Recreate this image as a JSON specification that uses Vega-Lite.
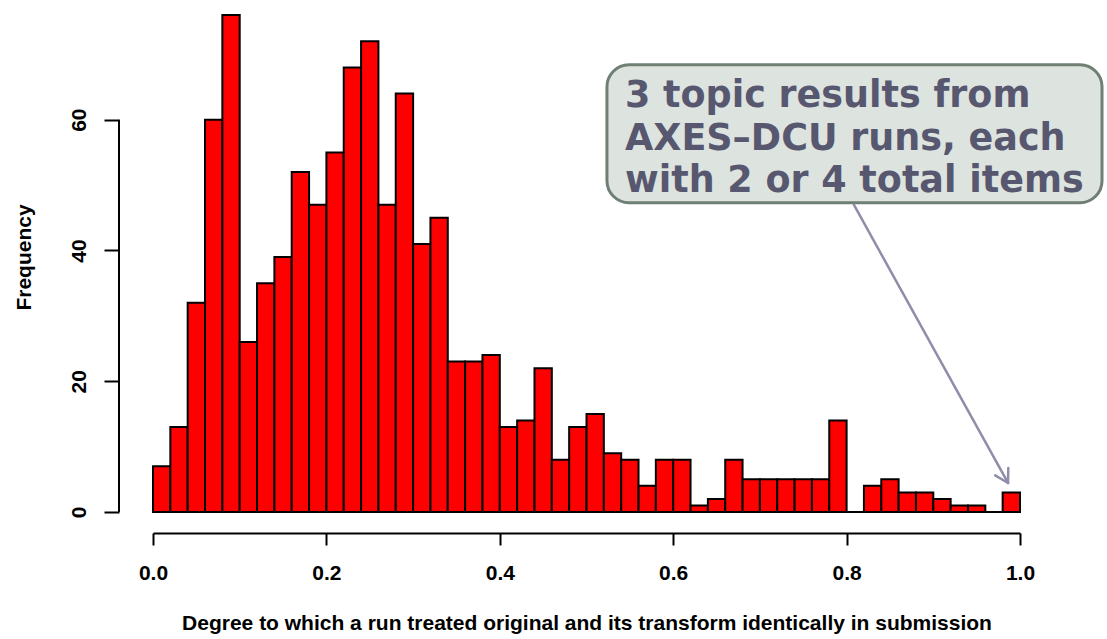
{
  "$schema": "https://vega.github.io/schema/vega-lite/v6.json",
  "width": 867,
  "height": 510,
  "autosize": {"type": "none"},
  "padding": {"left": 153, "top": 2, "right": 87, "bottom": 127},
  "background": "white",
  "config": {"view": {"stroke": null}},
  "datasets": {
    "bins": [
      {"lo": 0.00, "hi": 0.02, "n": 7}, {"lo": 0.02, "hi": 0.04, "n": 13}, {"lo": 0.04, "hi": 0.06, "n": 32},
      {"lo": 0.06, "hi": 0.08, "n": 60}, {"lo": 0.08, "hi": 0.10, "n": 76}, {"lo": 0.10, "hi": 0.12, "n": 26},
      {"lo": 0.12, "hi": 0.14, "n": 35}, {"lo": 0.14, "hi": 0.16, "n": 39}, {"lo": 0.16, "hi": 0.18, "n": 52},
      {"lo": 0.18, "hi": 0.20, "n": 47}, {"lo": 0.20, "hi": 0.22, "n": 55}, {"lo": 0.22, "hi": 0.24, "n": 68},
      {"lo": 0.24, "hi": 0.26, "n": 72}, {"lo": 0.26, "hi": 0.28, "n": 47}, {"lo": 0.28, "hi": 0.30, "n": 64},
      {"lo": 0.30, "hi": 0.32, "n": 41}, {"lo": 0.32, "hi": 0.34, "n": 45}, {"lo": 0.34, "hi": 0.36, "n": 23},
      {"lo": 0.36, "hi": 0.38, "n": 23}, {"lo": 0.38, "hi": 0.40, "n": 24}, {"lo": 0.40, "hi": 0.42, "n": 13},
      {"lo": 0.42, "hi": 0.44, "n": 14}, {"lo": 0.44, "hi": 0.46, "n": 22}, {"lo": 0.46, "hi": 0.48, "n": 8},
      {"lo": 0.48, "hi": 0.50, "n": 13}, {"lo": 0.50, "hi": 0.52, "n": 15}, {"lo": 0.52, "hi": 0.54, "n": 9},
      {"lo": 0.54, "hi": 0.56, "n": 8}, {"lo": 0.56, "hi": 0.58, "n": 4}, {"lo": 0.58, "hi": 0.60, "n": 8},
      {"lo": 0.60, "hi": 0.62, "n": 8}, {"lo": 0.62, "hi": 0.64, "n": 1}, {"lo": 0.64, "hi": 0.66, "n": 2},
      {"lo": 0.66, "hi": 0.68, "n": 8}, {"lo": 0.68, "hi": 0.70, "n": 5}, {"lo": 0.70, "hi": 0.72, "n": 5},
      {"lo": 0.72, "hi": 0.74, "n": 5}, {"lo": 0.74, "hi": 0.76, "n": 5}, {"lo": 0.76, "hi": 0.78, "n": 5},
      {"lo": 0.78, "hi": 0.80, "n": 14}, {"lo": 0.80, "hi": 0.82, "n": 0}, {"lo": 0.82, "hi": 0.84, "n": 4},
      {"lo": 0.84, "hi": 0.86, "n": 5}, {"lo": 0.86, "hi": 0.88, "n": 3}, {"lo": 0.88, "hi": 0.90, "n": 3},
      {"lo": 0.90, "hi": 0.92, "n": 2}, {"lo": 0.92, "hi": 0.94, "n": 1}, {"lo": 0.94, "hi": 0.96, "n": 1},
      {"lo": 0.96, "hi": 0.98, "n": 0}, {"lo": 0.98, "hi": 1.00, "n": 3}
    ],
    "arrow": [
      {"x": 0.8085, "y": 46.96, "x2": 0.9862, "y2": 4.44},
      {"x": 0.9862, "y": 4.44, "x2": 0.9865, "y2": 6.73},
      {"x": 0.9862, "y": 4.44, "x2": 0.9714, "y2": 5.61}
    ],
    "box": [
      {"x": 0.5236, "x2": 1.0946, "y": 68.4, "y2": 47.3}
    ],
    "note": [
      {"x": 0.5444, "y": 62.0, "t": "3 topic results from"},
      {"x": 0.5444, "y": 55.4, "t": "AXES–DCU runs, each"},
      {"x": 0.5444, "y": 49.0, "t": "with 2 or 4 total items"}
    ],
    "yline": [
      {"x": 0, "y": 0, "y2": 60}
    ]
  },
  "layer": [
    {
      "data": {"name": "arrow"},
      "mark": {"type": "rule", "stroke": "#8e8eab", "strokeWidth": 2.5, "strokeCap": "round"},
      "encoding": {
        "x": {"field": "x", "type": "quantitative"},
        "y": {"field": "y", "type": "quantitative"},
        "x2": {"field": "x2"},
        "y2": {"field": "y2"}
      }
    },
    {
      "data": {"name": "bins"},
      "mark": {"type": "rect", "fill": "#ff0000", "stroke": "#000000", "strokeWidth": 2},
      "encoding": {
        "x": {
          "field": "lo", "type": "quantitative",
          "scale": {"domain": [0, 1], "nice": false, "zero": false},
          "axis": {
            "values": [0, 0.2, 0.4, 0.6, 0.8, 1.0],
            "format": ".1f",
            "offset": 21,
            "grid": false,
            "domainColor": "#000000", "domainWidth": 2,
            "tickColor": "#000000", "tickWidth": 2, "tickSize": 12,
            "labelFont": "Liberation Sans", "labelFontSize": 21, "labelFontWeight": "bold",
            "labelColor": "#000000", "labelPadding": 17, "labelFlush": false,
            "title": "Degree to which a run treated original and its transform identically in submission",
            "titleFont": "Liberation Sans", "titleFontSize": 21, "titleFontWeight": "bold",
            "titleColor": "#000000", "titlePadding": 29
          }
        },
        "x2": {"field": "hi"},
        "y": {
          "field": "n", "type": "quantitative",
          "scale": {"domain": [0, 78], "nice": false},
          "axis": {
            "values": [0, 20, 40, 60],
            "offset": 34,
            "grid": false,
            "domain": false,
            "tickColor": "#000000", "tickWidth": 2, "tickSize": 15,
            "labelAngle": 270,
            "labelAlign": "center",
            "labelBaseline": "bottom",
            "labelFont": "Liberation Sans", "labelFontSize": 21, "labelFontWeight": "bold",
            "labelColor": "#000000", "labelPadding": 15,
            "title": "Frequency",
            "titleFont": "Liberation Sans", "titleFontSize": 21, "titleFontWeight": "bold",
            "titleColor": "#000000", "titlePadding": 34
          }
        },
        "y2": {"datum": 0}
      }
    },
    {
      "data": {"name": "yline"},
      "mark": {"type": "rule", "stroke": "#000000", "strokeWidth": 2, "xOffset": -34},
      "encoding": {
        "x": {"field": "x", "type": "quantitative"},
        "y": {"field": "y", "type": "quantitative"},
        "y2": {"field": "y2"}
      }
    },
    {
      "data": {"name": "box"},
      "mark": {"type": "rect", "fill": "#dde3df", "stroke": "#6f7f74", "strokeWidth": 3, "cornerRadius": 22},
      "encoding": {
        "x": {"field": "x", "type": "quantitative"},
        "x2": {"field": "x2"},
        "y": {"field": "y", "type": "quantitative"},
        "y2": {"field": "y2"}
      }
    },
    {
      "data": {"name": "note"},
      "mark": {"type": "text", "align": "left", "baseline": "alphabetic", "font": "DejaVu Sans", "fontWeight": "bold", "fontSize": 36.5, "fill": "#57576f"},
      "encoding": {
        "x": {"field": "x", "type": "quantitative"},
        "y": {"field": "y", "type": "quantitative"},
        "text": {"field": "t"}
      }
    }
  ]
}
